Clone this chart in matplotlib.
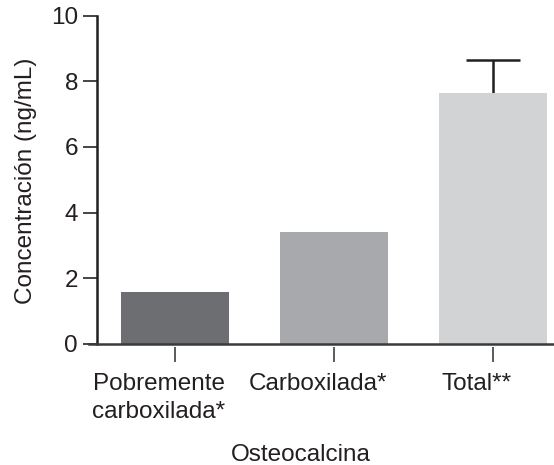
import matplotlib
matplotlib.use("Agg")
import matplotlib.pyplot as plt
import matplotlib.transforms as mtransforms

plt.rcParams['font.family'] = ['Liberation Sans', 'DejaVu Sans']

categories = ["Pobremente\ncarboxilada*", "Carboxilada*", "Total**"]
values = [1.57, 3.41, 7.65]
err_upper = [0.0, 0.0, 0.99]
colors = ["#6d6e71", "#a7a9ac", "#d1d3d4"]
yticks = [0, 2, 4, 6, 8, 10]

W, H = 554, 465
fig = plt.figure(figsize=(W / 100, H / 100), dpi=100)
ax = fig.add_axes([89.3 / W, 1 - 344 / H, 1 - 89.3 / W, (344 - 15.5) / H])

x = list(range(len(categories)))
ax.bar(x, values, width=0.68, color=colors, zorder=2)
# upper error bar only for Total
eb = ax.errorbar([x[2]], [values[2]], yerr=[[0], [err_upper[2]]], fmt='none',
                 ecolor='#231f20', elinewidth=1.8, capsize=19.5, capthick=1.8, zorder=1)
for cl in eb[1]:
    if cl.get_ydata()[0] <= values[2] + 1e-9:
        cl.set_visible(False)

ax.set_xlim(-0.539, 2.384)
ax.set_ylim(0, 10)

axc = '#231f20'
for s in ['top', 'right']:
    ax.spines[s].set_visible(False)
ax.spines['left'].set_position(('data', -0.4925))
ax.spines['left'].set_bounds(0, 10)
ax.spines['left'].set_linewidth(1.8)
ax.spines['left'].set_color(axc)
ax.spines['bottom'].set_linewidth(1.8)
ax.spines['bottom'].set_color('#3a3a3c')

ax.set_yticks(yticks)
ax.set_yticklabels([str(v) for v in yticks])
ax.tick_params(axis='y', length=10, width=1.4, color='#444446', pad=3.5,
               labelsize=17.5, labelcolor='#231f20')

ax.set_xticks([])
sec = ax.secondary_xaxis(-0.0095)
sec.spines['bottom'].set_visible(False)
sec.set_xticks(x)
sec.set_xticklabels(categories)
sec.tick_params(axis='x', length=10.8, width=1.4, color='#5a5a5c', pad=8,
                labelsize=17.5, labelcolor='#231f20')
off = mtransforms.ScaledTranslation(-16 / 100, 0, fig.dpi_scale_trans)
for lab in sec.get_xticklabels():
    lab.set_transform(lab.get_transform() + off)
    lab.set_linespacing(1.32)

fig.text(301 / W, 1 - 455 / H, "Osteocalcina", ha='center', va='center',
         fontsize=17.5, color='#231f20')
fig.text(26 / W, 1 - 181 / H, "Concentración (ng/mL)", ha='center', va='center',
         rotation=90, fontsize=17.5, color='#231f20')

fig.savefig("out.png", dpi=100)
